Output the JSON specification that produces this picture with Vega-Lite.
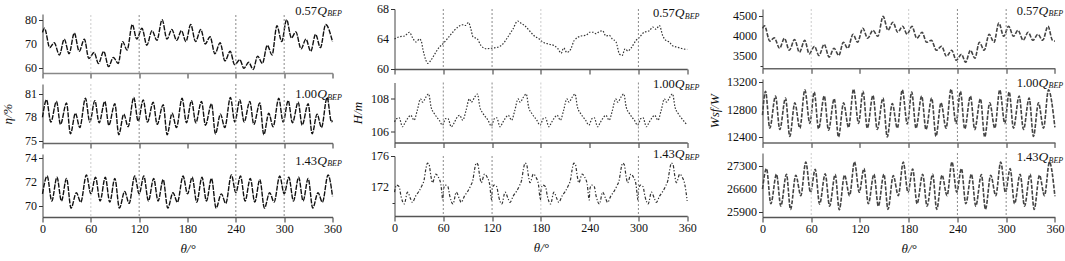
{
"$schema": "https://vega.github.io/schema/vega-lite/v6.json",
"background": "white",
"padding": {"left": 0.5, "top": 3, "right": 2, "bottom": 2},
"config": {
  "view": {"stroke": null},
  "font": "Liberation Serif",
  "axis": {"labelFont": "Liberation Serif", "labelFontSize": 12, "labelColor": "#111", "titleFont": "Liberation Serif", "titleFontSize": 13, "titleFontWeight": "normal", "titleFontStyle": "italic", "titleColor": "#111", "domainColor": "#444", "tickColor": "#333", "grid": false, "labelPadding": 1.5, "labelFlush": false, "labelOverlap": false, "tickWidth": 1},
  "axisX": {"tickSize": 5},
  "axisY": {"tickSize": 4, "labels": false},
  "text": {"font": "Liberation Serif", "color": "#111"}
},
"datasets": {
  "g1": [{"theta": 60}, {"theta": 120}, {"theta": 240}, {"theta": 300}],
  "g2": [{"theta": 60}, {"theta": 120}, {"theta": 180}, {"theta": 300}],
  "g3": [{"theta": 60}, {"theta": 180}, {"theta": 240}, {"theta": 300}],
  "l057": [{"num": "0.57", "q": "Q", "sub": "BEP"}],
  "l100": [{"num": "1.00", "q": "Q", "sub": "BEP"}],
  "l143": [{"num": "1.43", "q": "Q", "sub": "BEP"}],
  "ty1": [{"v": 60, "lab": "60"}, {"v": 70, "lab": "70"}, {"v": 80, "lab": "80"}],
  "ty2": [{"v": 75, "lab": "75"}, {"v": 78, "lab": "78"}, {"v": 81, "lab": "81"}],
  "ty3": [{"v": 70, "lab": "70"}, {"v": 72, "lab": "72"}, {"v": 74, "lab": "74"}],
  "ty4": [{"v": 60, "lab": "60"}, {"v": 64, "lab": "64"}, {"v": 68, "lab": "68"}],
  "ty5": [{"v": 106, "lab": "106"}, {"v": 108, "lab": "108"}],
  "ty6": [{"v": 172, "lab": "172"}, {"v": 176, "lab": "176"}],
  "ty7": [{"v": 3500, "lab": "3500"}, {"v": 4000, "lab": "4000"}, {"v": 4500, "lab": "4500"}],
  "ty8": [{"v": 12400, "lab": "12400"}, {"v": 12800, "lab": "12800"}, {"v": 13200, "lab": "13200"}],
  "ty9": [{"v": 25900, "lab": "25900"}, {"v": 26600, "lab": "26600"}, {"v": 27300, "lab": "27300"}],
  "eta057": [{"theta":0,"v":74.8},{"theta":2.5,"v":76.5},{"theta":9,"v":68.5},{"theta":14.5,"v":70.5},{"theta":21,"v":65.5},{"theta":27,"v":72},{"theta":33,"v":66},{"theta":39.5,"v":74.5},{"theta":45.5,"v":67},{"theta":52,"v":72},{"theta":57.5,"v":64},{"theta":64,"v":66.5},{"theta":69.5,"v":62},{"theta":76,"v":67},{"theta":82,"v":60.7},{"theta":88,"v":64.5},{"theta":94,"v":62},{"theta":99.5,"v":71},{"theta":105,"v":67.5},{"theta":111.5,"v":78},{"theta":117,"v":72},{"theta":123.5,"v":76.5},{"theta":129.5,"v":69.5},{"theta":136,"v":75.5},{"theta":142,"v":71.5},{"theta":148.5,"v":80},{"theta":154.5,"v":72},{"theta":160.5,"v":76},{"theta":166.5,"v":71.5},{"theta":172.5,"v":75.5},{"theta":178,"v":71},{"theta":184,"v":78},{"theta":190,"v":71},{"theta":196.5,"v":76},{"theta":202,"v":70},{"theta":208,"v":73},{"theta":214,"v":66},{"theta":220.5,"v":70.5},{"theta":226.5,"v":63},{"theta":233,"v":67},{"theta":238.5,"v":61.5},{"theta":245,"v":63.5},{"theta":250,"v":60},{"theta":256,"v":62.5},{"theta":261.5,"v":59.5},{"theta":267,"v":65},{"theta":273,"v":62},{"theta":279,"v":69.5},{"theta":285,"v":65.5},{"theta":291,"v":77.5},{"theta":297,"v":71},{"theta":303,"v":80},{"theta":309,"v":72.5},{"theta":314.5,"v":75},{"theta":321,"v":68},{"theta":327,"v":72},{"theta":333,"v":67},{"theta":339,"v":74},{"theta":345,"v":68.5},{"theta":351.5,"v":78},{"theta":360,"v":71}],
  "eta100": [{"theta":0,"v":78.0},{"theta":5,"v":80.2},{"theta":10.3,"v":77.4},{"theta":17.4,"v":80.0},{"theta":22.3,"v":77.1},{"theta":29.8,"v":79.8},{"theta":34.7,"v":75.9},{"theta":40.9,"v":78.5},{"theta":46.3,"v":76.7},{"theta":53.3,"v":80.4},{"theta":58.7,"v":77.4},{"theta":65,"v":80.1},{"theta":70.3,"v":77.3},{"theta":77.4,"v":80.0},{"theta":82.3,"v":77.0},{"theta":89.8,"v":79.7},{"theta":94.7,"v":75.8},{"theta":100.9,"v":78.4},{"theta":106.3,"v":76.8},{"theta":113.3,"v":80.5},{"theta":118.7,"v":77.5},{"theta":125,"v":80.2},{"theta":130.3,"v":77.4},{"theta":137.4,"v":79.9},{"theta":142.3,"v":77.1},{"theta":149.8,"v":79.6},{"theta":154.7,"v":75.8},{"theta":160.9,"v":78.5},{"theta":166.3,"v":76.7},{"theta":173.3,"v":80.4},{"theta":178.7,"v":77.3},{"theta":185,"v":80.1},{"theta":190.3,"v":77.3},{"theta":197.4,"v":80.0},{"theta":202.3,"v":77.0},{"theta":209.8,"v":79.7},{"theta":214.7,"v":75.9},{"theta":220.9,"v":78.4},{"theta":226.3,"v":76.7},{"theta":233.3,"v":80.5},{"theta":238.7,"v":77.4},{"theta":245,"v":80.2},{"theta":250.3,"v":77.4},{"theta":257.4,"v":80.0},{"theta":262.3,"v":77.1},{"theta":269.8,"v":79.8},{"theta":274.7,"v":75.8},{"theta":280.9,"v":78.5},{"theta":286.3,"v":76.8},{"theta":293.3,"v":80.4},{"theta":298.7,"v":77.4},{"theta":305,"v":80.1},{"theta":310.3,"v":77.3},{"theta":317.4,"v":79.9},{"theta":322.3,"v":77.0},{"theta":329.8,"v":79.7},{"theta":334.7,"v":75.9},{"theta":340.9,"v":78.4},{"theta":346.3,"v":76.7},{"theta":353.3,"v":80.5},{"theta":358.7,"v":77.4},{"theta":360,"v":77.6}],
  "eta143": [{"theta":0,"v":71.0},{"theta":5.8,"v":72.5},{"theta":11.5,"v":70.4},{"theta":18,"v":72.4},{"theta":23.5,"v":70.4},{"theta":29.8,"v":72.3},{"theta":35.5,"v":69.8},{"theta":42,"v":71.1},{"theta":47.5,"v":70.3},{"theta":54.5,"v":72.6},{"theta":60,"v":71.0},{"theta":65.8,"v":72.4},{"theta":71.5,"v":70.4},{"theta":78,"v":72.4},{"theta":83.5,"v":70.3},{"theta":89.8,"v":72.3},{"theta":95.5,"v":69.8},{"theta":102,"v":71.2},{"theta":107.5,"v":70.2},{"theta":114.5,"v":72.5},{"theta":120,"v":71.0},{"theta":125.8,"v":72.5},{"theta":131.5,"v":70.4},{"theta":138,"v":72.3},{"theta":143.5,"v":70.4},{"theta":149.8,"v":72.2},{"theta":155.5,"v":69.8},{"theta":162,"v":71.1},{"theta":167.5,"v":70.3},{"theta":174.5,"v":72.5},{"theta":180,"v":71.0},{"theta":185.8,"v":72.4},{"theta":191.5,"v":70.3},{"theta":198,"v":72.4},{"theta":203.5,"v":70.4},{"theta":209.8,"v":72.3},{"theta":215.5,"v":69.8},{"theta":222,"v":71.0},{"theta":227.5,"v":70.2},{"theta":234.5,"v":72.6},{"theta":240,"v":71.1},{"theta":245.8,"v":72.5},{"theta":251.5,"v":70.4},{"theta":258,"v":72.3},{"theta":263.5,"v":70.3},{"theta":269.8,"v":72.2},{"theta":275.5,"v":69.8},{"theta":282,"v":71.1},{"theta":287.5,"v":70.3},{"theta":294.5,"v":72.5},{"theta":300,"v":71.0},{"theta":305.8,"v":72.4},{"theta":311.5,"v":70.4},{"theta":318,"v":72.4},{"theta":323.5,"v":70.4},{"theta":329.8,"v":72.3},{"theta":335.5,"v":69.8},{"theta":342,"v":71.1},{"theta":347.5,"v":70.3},{"theta":354.5,"v":72.6},{"theta":360,"v":70.8}],
  "h057": [{"theta":0,"v":64.0},{"theta":6,"v":64.3},{"theta":12.3,"v":64.4},{"theta":18.4,"v":64.9},{"theta":22,"v":64.2},{"theta":26.6,"v":63.6},{"theta":30.7,"v":64.0},{"theta":33,"v":63.7},{"theta":35,"v":62.6},{"theta":38.5,"v":61.2},{"theta":41,"v":60.75},{"theta":45,"v":61.2},{"theta":49,"v":61.9},{"theta":55,"v":62.9},{"theta":59,"v":63.3},{"theta":64,"v":63.9},{"theta":70,"v":64.7},{"theta":78,"v":65.6},{"theta":84,"v":65.9},{"theta":87,"v":65.8},{"theta":91,"v":66.2},{"theta":94,"v":65.3},{"theta":96.5,"v":64.3},{"theta":102,"v":64.0},{"theta":106.5,"v":63.1},{"theta":113,"v":62.7},{"theta":121,"v":62.8},{"theta":127,"v":62.9},{"theta":133,"v":63.3},{"theta":139,"v":64.2},{"theta":145.5,"v":65.3},{"theta":151.6,"v":66.4},{"theta":155.7,"v":66.1},{"theta":160,"v":65.8},{"theta":166,"v":65.1},{"theta":172,"v":64.4},{"theta":178,"v":64.0},{"theta":182,"v":63.6},{"theta":190.6,"v":63.3},{"theta":196.7,"v":63.1},{"theta":201,"v":62.7},{"theta":205,"v":62.1},{"theta":208,"v":62.8},{"theta":212,"v":62.2},{"theta":217,"v":62.7},{"theta":221,"v":63.8},{"theta":229.5,"v":64.4},{"theta":235.7,"v":64.5},{"theta":240,"v":64.9},{"theta":244,"v":64.9},{"theta":248,"v":64.7},{"theta":252,"v":65.0},{"theta":256,"v":65.1},{"theta":260,"v":64.4},{"theta":264,"v":64.5},{"theta":268,"v":64.0},{"theta":272.5,"v":63.6},{"theta":276.6,"v":62.0},{"theta":280,"v":61.8},{"theta":283.6,"v":62.7},{"theta":287,"v":62.4},{"theta":291,"v":62.8},{"theta":297,"v":63.8},{"theta":301,"v":64.2},{"theta":307,"v":64.9},{"theta":313.5,"v":65.1},{"theta":317.6,"v":65.6},{"theta":321.7,"v":65.3},{"theta":325.8,"v":65.8},{"theta":330,"v":64.4},{"theta":334,"v":63.8},{"theta":338,"v":63.6},{"theta":342,"v":63.1},{"theta":348,"v":62.9},{"theta":354.5,"v":62.7},{"theta":360,"v":62.6}],
  "h100": [{"theta":0,"v":106.6},{"theta":3,"v":106.8},{"theta":5.7,"v":106.85},{"theta":9.8,"v":106.3},{"theta":13,"v":106.55},{"theta":16,"v":106.8},{"theta":20,"v":107.0},{"theta":24,"v":106.7},{"theta":28,"v":107.3},{"theta":32,"v":108.0},{"theta":34.5,"v":107.8},{"theta":38.5,"v":108.1},{"theta":42,"v":108.3},{"theta":45,"v":107.5},{"theta":49,"v":107.1},{"theta":55,"v":106.7},{"theta":59,"v":106.4},{"theta":63,"v":106.8},{"theta":65.7,"v":106.8},{"theta":69.8,"v":106.3},{"theta":73,"v":106.5},{"theta":76,"v":106.8},{"theta":80,"v":107.0},{"theta":84,"v":106.7},{"theta":88,"v":107.3},{"theta":92,"v":108.0},{"theta":94.5,"v":107.8},{"theta":98.5,"v":108.1},{"theta":102,"v":108.3},{"theta":105,"v":107.5},{"theta":109,"v":107.1},{"theta":115,"v":106.7},{"theta":119,"v":106.35},{"theta":123,"v":106.8},{"theta":125.7,"v":106.85},{"theta":129.8,"v":106.3},{"theta":133,"v":106.55},{"theta":136,"v":106.8},{"theta":140,"v":107.0},{"theta":144,"v":106.7},{"theta":148,"v":107.3},{"theta":152,"v":108.0},{"theta":154.5,"v":107.8},{"theta":158.5,"v":108.1},{"theta":162,"v":108.3},{"theta":165,"v":107.5},{"theta":169,"v":107.1},{"theta":175,"v":106.7},{"theta":179,"v":106.4},{"theta":183,"v":106.8},{"theta":185.7,"v":106.85},{"theta":189.8,"v":106.3},{"theta":193,"v":106.55},{"theta":196,"v":106.8},{"theta":200,"v":107.0},{"theta":204,"v":106.7},{"theta":208,"v":107.3},{"theta":212,"v":108.0},{"theta":214.5,"v":107.8},{"theta":218.5,"v":108.1},{"theta":222,"v":108.3},{"theta":225,"v":107.5},{"theta":229,"v":107.1},{"theta":235,"v":106.7},{"theta":239,"v":106.4},{"theta":243,"v":106.8},{"theta":245.7,"v":106.85},{"theta":249.8,"v":106.3},{"theta":253,"v":106.55},{"theta":256,"v":106.8},{"theta":260,"v":107.0},{"theta":264,"v":106.7},{"theta":268,"v":107.3},{"theta":272,"v":108.0},{"theta":274.5,"v":107.8},{"theta":278.5,"v":108.1},{"theta":282,"v":108.3},{"theta":285,"v":107.5},{"theta":289,"v":107.1},{"theta":295,"v":106.7},{"theta":299,"v":106.4},{"theta":303,"v":106.8},{"theta":305.7,"v":106.85},{"theta":309.8,"v":106.3},{"theta":313,"v":106.55},{"theta":316,"v":106.8},{"theta":320,"v":107.0},{"theta":324,"v":106.7},{"theta":328,"v":107.3},{"theta":332,"v":108.0},{"theta":334.5,"v":107.8},{"theta":338.5,"v":108.1},{"theta":342,"v":108.3},{"theta":345,"v":107.5},{"theta":349,"v":107.1},{"theta":355,"v":106.7},{"theta":360,"v":106.4}],
  "h143": [{"theta":0,"v":171.4},{"theta":2.5,"v":172.3},{"theta":5.7,"v":172.1},{"theta":8,"v":170.9},{"theta":12,"v":169.9},{"theta":16,"v":171.4},{"theta":20,"v":170.5},{"theta":22,"v":170.1},{"theta":26,"v":170.9},{"theta":30,"v":171.5},{"theta":33.6,"v":172.2},{"theta":36.5,"v":173.0},{"theta":38.5,"v":174.3},{"theta":40.6,"v":175.1},{"theta":42.6,"v":174.9},{"theta":44.7,"v":173.5},{"theta":46.7,"v":172.6},{"theta":50.8,"v":173.7},{"theta":54,"v":173.3},{"theta":57,"v":172.4},{"theta":59.5,"v":170.4},{"theta":60.3,"v":171.8},{"theta":62.5,"v":172.3},{"theta":65.7,"v":172.1},{"theta":68,"v":170.9},{"theta":72,"v":169.9},{"theta":76,"v":171.4},{"theta":80,"v":170.5},{"theta":82,"v":170.1},{"theta":86,"v":170.9},{"theta":90,"v":171.5},{"theta":93.6,"v":172.2},{"theta":96.5,"v":173.0},{"theta":98.5,"v":174.3},{"theta":100.6,"v":175.1},{"theta":102.6,"v":174.9},{"theta":104.7,"v":173.5},{"theta":106.7,"v":172.6},{"theta":110.8,"v":173.7},{"theta":114,"v":173.3},{"theta":117,"v":172.4},{"theta":119.5,"v":170.4},{"theta":120.3,"v":171.8},{"theta":122.5,"v":172.3},{"theta":125.7,"v":172.1},{"theta":128,"v":170.9},{"theta":132,"v":169.9},{"theta":136,"v":171.4},{"theta":140,"v":170.5},{"theta":142,"v":170.1},{"theta":146,"v":170.9},{"theta":150,"v":171.5},{"theta":153.6,"v":172.2},{"theta":156.5,"v":173.0},{"theta":158.5,"v":174.3},{"theta":160.6,"v":175.1},{"theta":162.6,"v":174.9},{"theta":164.7,"v":173.5},{"theta":166.7,"v":172.6},{"theta":170.8,"v":173.7},{"theta":174,"v":173.3},{"theta":177,"v":172.4},{"theta":179.5,"v":170.4},{"theta":180.3,"v":171.8},{"theta":182.5,"v":172.3},{"theta":185.7,"v":172.1},{"theta":188,"v":170.9},{"theta":192,"v":169.9},{"theta":196,"v":171.4},{"theta":200,"v":170.5},{"theta":202,"v":170.1},{"theta":206,"v":170.9},{"theta":210,"v":171.5},{"theta":213.6,"v":172.2},{"theta":216.5,"v":173.0},{"theta":218.5,"v":174.3},{"theta":220.6,"v":175.1},{"theta":222.6,"v":174.9},{"theta":224.7,"v":173.5},{"theta":226.7,"v":172.6},{"theta":230.8,"v":173.7},{"theta":234,"v":173.3},{"theta":237,"v":172.4},{"theta":239.5,"v":170.4},{"theta":240.3,"v":171.8},{"theta":242.5,"v":172.3},{"theta":245.7,"v":172.1},{"theta":248,"v":170.9},{"theta":252,"v":169.9},{"theta":256,"v":171.4},{"theta":260,"v":170.5},{"theta":262,"v":170.1},{"theta":266,"v":170.9},{"theta":270,"v":171.5},{"theta":273.6,"v":172.2},{"theta":276.5,"v":173.0},{"theta":278.5,"v":174.3},{"theta":280.6,"v":175.1},{"theta":282.6,"v":174.9},{"theta":284.7,"v":173.5},{"theta":286.7,"v":172.6},{"theta":290.8,"v":173.7},{"theta":294,"v":173.3},{"theta":297,"v":172.4},{"theta":299.5,"v":170.4},{"theta":300.3,"v":171.8},{"theta":302.5,"v":172.3},{"theta":305.7,"v":172.1},{"theta":308,"v":170.9},{"theta":312,"v":169.9},{"theta":316,"v":171.4},{"theta":320,"v":170.5},{"theta":322,"v":170.1},{"theta":326,"v":170.9},{"theta":330,"v":171.5},{"theta":333.6,"v":172.2},{"theta":336.5,"v":173.0},{"theta":338.5,"v":174.3},{"theta":340.6,"v":175.1},{"theta":342.6,"v":174.9},{"theta":344.7,"v":173.5},{"theta":346.7,"v":172.6},{"theta":350.8,"v":173.7},{"theta":354,"v":173.3},{"theta":357,"v":172.4},{"theta":360,"v":170.3}],
  "w057": [{"theta":0,"v":4200},{"theta":2.5,"v":4260},{"theta":9,"v":3880},{"theta":14.5,"v":3960},{"theta":21,"v":3700},{"theta":27,"v":3950},{"theta":33,"v":3650},{"theta":39.5,"v":3920},{"theta":45.5,"v":3600},{"theta":52,"v":3900},{"theta":57.5,"v":3560},{"theta":64,"v":3750},{"theta":69.5,"v":3520},{"theta":76,"v":3800},{"theta":82,"v":3480},{"theta":88,"v":3700},{"theta":94,"v":3520},{"theta":99.5,"v":3850},{"theta":105,"v":3700},{"theta":111.5,"v":4050},{"theta":117,"v":3850},{"theta":123.5,"v":4200},{"theta":129.5,"v":3950},{"theta":136,"v":4150},{"theta":142,"v":4000},{"theta":148.5,"v":4500},{"theta":154.5,"v":4150},{"theta":160.5,"v":4350},{"theta":166.5,"v":4100},{"theta":172.5,"v":4250},{"theta":178,"v":4050},{"theta":184,"v":4250},{"theta":190,"v":3950},{"theta":196.5,"v":4100},{"theta":202,"v":3850},{"theta":208,"v":3900},{"theta":214,"v":3650},{"theta":220.5,"v":3750},{"theta":226.5,"v":3500},{"theta":233,"v":3650},{"theta":238.5,"v":3400},{"theta":245,"v":3550},{"theta":250,"v":3350},{"theta":256,"v":3650},{"theta":261.5,"v":3450},{"theta":267,"v":3850},{"theta":273,"v":3650},{"theta":279,"v":4050},{"theta":285,"v":3850},{"theta":291,"v":4330},{"theta":297,"v":4000},{"theta":303,"v":4250},{"theta":309,"v":4000},{"theta":314.5,"v":4150},{"theta":321,"v":3900},{"theta":327,"v":4100},{"theta":333,"v":3900},{"theta":339,"v":4050},{"theta":345,"v":3900},{"theta":351.5,"v":4250},{"theta":357,"v":3900},{"theta":360,"v":3880}],
  "w100": [{"theta":0,"v":12720},{"theta":3.7,"v":13070},{"theta":9,"v":12530},{"theta":16,"v":13000},{"theta":21.3,"v":12510},{"theta":28.3,"v":12970},{"theta":33.6,"v":12410},{"theta":39.8,"v":12900},{"theta":46,"v":12530},{"theta":52.1,"v":13090},{"theta":58.3,"v":12600},{"theta":63.7,"v":13060},{"theta":69,"v":12520},{"theta":76,"v":13000},{"theta":81.3,"v":12500},{"theta":88.3,"v":12960},{"theta":93.6,"v":12400},{"theta":99.8,"v":12900},{"theta":106,"v":12540},{"theta":112.1,"v":13100},{"theta":118.3,"v":12600},{"theta":123.7,"v":13070},{"theta":129,"v":12530},{"theta":136,"v":13010},{"theta":141.3,"v":12510},{"theta":148.3,"v":12970},{"theta":153.6,"v":12400},{"theta":159.8,"v":12890},{"theta":166,"v":12530},{"theta":172.1,"v":13090},{"theta":178.3,"v":12590},{"theta":183.7,"v":13060},{"theta":189,"v":12530},{"theta":196,"v":13000},{"theta":201.3,"v":12510},{"theta":208.3,"v":12970},{"theta":213.6,"v":12410},{"theta":219.8,"v":12900},{"theta":226,"v":12530},{"theta":232.1,"v":13100},{"theta":238.3,"v":12600},{"theta":243.7,"v":13070},{"theta":249,"v":12520},{"theta":256,"v":13000},{"theta":261.3,"v":12510},{"theta":268.3,"v":12960},{"theta":273.6,"v":12400},{"theta":279.8,"v":12900},{"theta":286,"v":12530},{"theta":292.1,"v":13090},{"theta":298.3,"v":12600},{"theta":303.7,"v":13060},{"theta":309,"v":12530},{"theta":316,"v":13000},{"theta":321.3,"v":12510},{"theta":328.3,"v":12970},{"theta":333.6,"v":12410},{"theta":339.8,"v":12900},{"theta":346,"v":12530},{"theta":352.1,"v":13090},{"theta":360,"v":12540}],
  "w143": [{"theta":0,"v":26600},{"theta":4.9,"v":27220},{"theta":10.3,"v":26150},{"theta":17.2,"v":27050},{"theta":22.6,"v":26080},{"theta":29.5,"v":27050},{"theta":34.5,"v":25980},{"theta":41,"v":27020},{"theta":47.2,"v":26400},{"theta":53.3,"v":27420},{"theta":59.1,"v":26500},{"theta":64.9,"v":27200},{"theta":70.3,"v":26140},{"theta":77.2,"v":27060},{"theta":82.6,"v":26080},{"theta":89.5,"v":27040},{"theta":94.5,"v":25970},{"theta":101,"v":27020},{"theta":107.2,"v":26400},{"theta":113.3,"v":27430},{"theta":119.1,"v":26500},{"theta":124.9,"v":27220},{"theta":130.3,"v":26150},{"theta":137.2,"v":27050},{"theta":142.6,"v":26080},{"theta":149.5,"v":27050},{"theta":154.5,"v":25980},{"theta":161,"v":27010},{"theta":167.2,"v":26400},{"theta":173.3,"v":27420},{"theta":179.1,"v":26500},{"theta":184.9,"v":27210},{"theta":190.3,"v":26150},{"theta":197.2,"v":27050},{"theta":202.6,"v":26080},{"theta":209.5,"v":27050},{"theta":214.5,"v":25980},{"theta":221,"v":27020},{"theta":227.2,"v":26400},{"theta":233.3,"v":27420},{"theta":239.1,"v":26500},{"theta":244.9,"v":27220},{"theta":250.3,"v":26150},{"theta":257.2,"v":27050},{"theta":262.6,"v":26080},{"theta":269.5,"v":27040},{"theta":274.5,"v":25980},{"theta":281,"v":27020},{"theta":287.2,"v":26400},{"theta":293.3,"v":27420},{"theta":299.1,"v":26500},{"theta":304.9,"v":27220},{"theta":310.3,"v":26150},{"theta":317.2,"v":27050},{"theta":322.6,"v":26080},{"theta":329.5,"v":27050},{"theta":334.5,"v":25980},{"theta":341,"v":27020},{"theta":347.2,"v":26400},{"theta":353.3,"v":27420},{"theta":360,"v":26380}]
},
"spacing": 9,
"hconcat": [
 {"vconcat": [
  {"width": 290, "height": 64, "layer": [
   {"data": {"name": "eta057"}, "mark": {"type": "line", "interpolate": "monotone", "stroke": "#111", "strokeWidth": 1.4, "strokeDash": [5, 1.2]},
    "encoding": {"x": {"field": "theta", "type": "quantitative", "scale": {"domain": [0, 360], "nice": false}, "axis": {"values": [0,30,60,90,120,150,180,210,240,270,300,330,360], "labels": false, "title": null, "tickDash": {"condition": {"test": "datum.value % 60 !== 0", "value": [3, 10]}, "value": [10, 0]}, "domainColor": "#888", "domainWidth": 1.5}},
     "y": {"field": "v", "type": "quantitative", "scale": {"domain": [58.07, 82.35], "range": [64, 5], "nice": false, "zero": false}, "axis": {"values": [60,65,70,75,80], "labels": false, "tickDash": {"condition": {"test": "datum.value % 10 !== 0", "value": [2.5, 10]}, "value": [10, 0]}, "title": null}}}},
   {"data": {"name": "ty1"}, "mark": {"type": "text", "align": "right", "baseline": "middle", "fontSize": 12, "dx": -5.5},
    "encoding": {"x": {"datum": 0, "type": "quantitative"}, "y": {"field": "v", "type": "quantitative"}, "text": {"field": "lab"}}},
   {"data": {"name": "g1"}, "mark": {"type": "rule", "strokeDash": [2, 2], "strokeWidth": 1},
    "encoding": {"x": {"field": "theta", "type": "quantitative"},
     "y": {"datum": 58.07, "type": "quantitative"}, "y2": {"datum": 82.35},
     "color": {"condition": {"test": "datum.theta == 60", "value": "#cccccc"}, "value": "#8a8a8a"}}},
   {"data": {"name": "l057"}, "mark": {"type": "text", "align": "right", "baseline": "middle", "fontSize": 12.5, "dx": -15.4, "dy": -3.3},
    "encoding": {"x": {"datum": 360, "type": "quantitative"}, "y": {"datum": 82.35, "type": "quantitative"}, "text": {"field": "num"}}},
   {"data": {"name": "l057"}, "mark": {"type": "text", "align": "right", "baseline": "middle", "fontSize": 13.5, "fontStyle": "italic", "dx": -5.6, "dy": -3.3},
    "encoding": {"x": {"datum": 360, "type": "quantitative"}, "y": {"datum": 82.35, "type": "quantitative"}, "text": {"field": "q"}}},
   {"data": {"name": "l057"}, "mark": {"type": "text", "align": "right", "baseline": "middle", "fontSize": 8, "fontStyle": "italic", "dx": 9.3, "dy": 0.3},
    "encoding": {"x": {"datum": 360, "type": "quantitative"}, "y": {"datum": 82.35, "type": "quantitative"}, "text": {"field": "sub"}}}
  ]},
  {"width": 290, "height": 59, "layer": [
   {"data": {"name": "eta100"}, "mark": {"type": "line", "interpolate": "monotone", "stroke": "#111", "strokeWidth": 1.4, "strokeDash": [5, 1.2]},
    "encoding": {"x": {"field": "theta", "type": "quantitative", "scale": {"domain": [0, 360], "nice": false}, "axis": {"values": [0,30,60,90,120,150,180,210,240,270,300,330,360], "labels": false, "title": null, "tickDash": {"condition": {"test": "datum.value % 60 !== 0", "value": [3, 10]}, "value": [10, 0]}, "domainColor": "#666", "domainWidth": 1.5}},
     "y": {"field": "v", "type": "quantitative", "scale": {"domain": [74.75, 82.2], "nice": false, "zero": false}, "axis": {"values": [75,76.5,78,79.5,81], "labels": false, "tickDash": {"condition": {"test": "datum.value % 3 !== 0", "value": [2.5, 10]}, "value": [10, 0]}, "title": "η/%", "titlePadding": 23.7}}}},
   {"data": {"name": "ty2"}, "mark": {"type": "text", "align": "right", "baseline": "middle", "fontSize": 12, "dx": -5.5},
    "encoding": {"x": {"datum": 0, "type": "quantitative"}, "y": {"field": "v", "type": "quantitative"}, "text": {"field": "lab"}}},
   {"data": {"name": "g1"}, "mark": {"type": "rule", "strokeDash": [2, 2], "strokeWidth": 1},
    "encoding": {"x": {"field": "theta", "type": "quantitative"},
     "color": {"condition": {"test": "datum.theta == 60", "value": "#cccccc"}, "value": "#8a8a8a"}}},
   {"data": {"name": "l100"}, "mark": {"type": "text", "align": "right", "baseline": "middle", "fontSize": 12.5, "dx": -15.4, "dy": 10},
    "encoding": {"x": {"datum": 360, "type": "quantitative"}, "y": {"datum": 82.2, "type": "quantitative"}, "text": {"field": "num"}}},
   {"data": {"name": "l100"}, "mark": {"type": "text", "align": "right", "baseline": "middle", "fontSize": 13.5, "fontStyle": "italic", "dx": -5.6, "dy": 10},
    "encoding": {"x": {"datum": 360, "type": "quantitative"}, "y": {"datum": 82.2, "type": "quantitative"}, "text": {"field": "q"}}},
   {"data": {"name": "l100"}, "mark": {"type": "text", "align": "right", "baseline": "middle", "fontSize": 8, "fontStyle": "italic", "dx": 9.3, "dy": 13.5},
    "encoding": {"x": {"datum": 360, "type": "quantitative"}, "y": {"datum": 82.2, "type": "quantitative"}, "text": {"field": "sub"}}}
  ]},
  {"width": 290, "height": 63, "layer": [
   {"data": {"name": "eta143"}, "mark": {"type": "line", "interpolate": "monotone", "stroke": "#111", "strokeWidth": 1.4, "strokeDash": [5, 1.2]},
    "encoding": {"x": {"field": "theta", "type": "quantitative", "scale": {"domain": [0, 360], "nice": false}, "axis": {"values": [0,30,60,90,120,150,180,210,240,270,300,330,360], "labelExpr": "datum.value % 60 === 0 ? format(datum.value, 'd') : ''", "title": "θ/°", "tickDash": {"condition": {"test": "datum.value % 60 !== 0", "value": [3, 10]}, "value": [10, 0]}, "domainColor": "#555", "domainWidth": 1.5, "labelPadding": 1, "titlePadding": 8}},
     "y": {"field": "v", "type": "quantitative", "scale": {"domain": [69.05, 74.36], "nice": false, "zero": false}, "axis": {"values": [70,71,72,73,74], "labels": false, "tickDash": {"condition": {"test": "datum.value % 2 !== 0", "value": [2.5, 10]}, "value": [10, 0]}, "title": null}}}},
   {"data": {"name": "ty3"}, "mark": {"type": "text", "align": "right", "baseline": "middle", "fontSize": 12, "dx": -5.5},
    "encoding": {"x": {"datum": 0, "type": "quantitative"}, "y": {"field": "v", "type": "quantitative"}, "text": {"field": "lab"}}},
   {"data": {"name": "g1"}, "mark": {"type": "rule", "strokeDash": [2, 2], "strokeWidth": 1},
    "encoding": {"x": {"field": "theta", "type": "quantitative"},
     "color": {"condition": {"test": "datum.theta == 60", "value": "#cccccc"}, "value": "#8a8a8a"}}},
   {"data": {"name": "l143"}, "mark": {"type": "text", "align": "right", "baseline": "middle", "fontSize": 12.5, "dx": -15.4, "dy": 6.7},
    "encoding": {"x": {"datum": 360, "type": "quantitative"}, "y": {"datum": 74.36, "type": "quantitative"}, "text": {"field": "num"}}},
   {"data": {"name": "l143"}, "mark": {"type": "text", "align": "right", "baseline": "middle", "fontSize": 13.5, "fontStyle": "italic", "dx": -5.6, "dy": 6.7},
    "encoding": {"x": {"datum": 360, "type": "quantitative"}, "y": {"datum": 74.36, "type": "quantitative"}, "text": {"field": "q"}}},
   {"data": {"name": "l143"}, "mark": {"type": "text", "align": "right", "baseline": "middle", "fontSize": 8, "fontStyle": "italic", "dx": 9.3, "dy": 10.2},
    "encoding": {"x": {"datum": 360, "type": "quantitative"}, "y": {"datum": 74.36, "type": "quantitative"}, "text": {"field": "sub"}}}
  ]}
 ], "spacing": 11, "bounds": "flush"},
 {"vconcat": [
  {"width": 292.7, "height": 60, "layer": [
   {"data": {"name": "h057"}, "mark": {"type": "line", "interpolate": "monotone", "stroke": "#333", "strokeWidth": 1.2, "strokeDash": [1.5, 1.6]},
    "encoding": {"x": {"field": "theta", "type": "quantitative", "scale": {"domain": [0, 360], "nice": false}, "axis": {"values": [0,30,60,90,120,150,180,210,240,270,300,330,360], "labels": false, "title": null, "tickDash": {"condition": {"test": "datum.value % 60 !== 0", "value": [3, 10]}, "value": [10, 0]}, "domainColor": "#555", "domainWidth": 1.5}},
     "y": {"field": "v", "type": "quantitative", "scale": {"domain": [60, 68], "nice": false, "zero": false}, "axis": {"values": [60,62,64,66,68], "labels": false, "tickDash": {"condition": {"test": "datum.value % 4 !== 0", "value": [2.5, 10]}, "value": [10, 0]}, "title": null}}}},
   {"data": {"name": "ty4"}, "mark": {"type": "text", "align": "right", "baseline": "middle", "fontSize": 12, "dx": -5.5},
    "encoding": {"x": {"datum": 0, "type": "quantitative"}, "y": {"field": "v", "type": "quantitative"}, "text": {"field": "lab"}}},
   {"data": {"name": "g2"}, "mark": {"type": "rule", "strokeDash": [2, 2], "strokeWidth": 1},
    "encoding": {"x": {"field": "theta", "type": "quantitative"},
     "color": {"condition": {"test": "datum.theta == 180", "value": "#cccccc"}, "value": "#8a8a8a"}}},
   {"data": {"name": "l057"}, "mark": {"type": "text", "align": "right", "baseline": "middle", "fontSize": 12.5, "dx": -12.4, "dy": 4},
    "encoding": {"x": {"datum": 360, "type": "quantitative"}, "y": {"datum": 68, "type": "quantitative"}, "text": {"field": "num"}}},
   {"data": {"name": "l057"}, "mark": {"type": "text", "align": "right", "baseline": "middle", "fontSize": 13.5, "fontStyle": "italic", "dx": -2.6, "dy": 4},
    "encoding": {"x": {"datum": 360, "type": "quantitative"}, "y": {"datum": 68, "type": "quantitative"}, "text": {"field": "q"}}},
   {"data": {"name": "l057"}, "mark": {"type": "text", "align": "right", "baseline": "middle", "fontSize": 8, "fontStyle": "italic", "dx": 12.3, "dy": 7.5},
    "encoding": {"x": {"datum": 360, "type": "quantitative"}, "y": {"datum": 68, "type": "quantitative"}, "text": {"field": "sub"}}}
  ]},
  {"width": 292.7, "height": 60, "layer": [
   {"data": {"name": "h100"}, "mark": {"type": "line", "interpolate": "monotone", "stroke": "#333", "strokeWidth": 1.2, "strokeDash": [1.5, 1.6]},
    "encoding": {"x": {"field": "theta", "type": "quantitative", "scale": {"domain": [0, 360], "nice": false}, "axis": {"values": [0,30,60,90,120,150,180,210,240,270,300,330,360], "labels": false, "title": null, "tickDash": {"condition": {"test": "datum.value % 60 !== 0", "value": [3, 10]}, "value": [10, 0]}, "domainColor": "#555", "domainWidth": 1.5}},
     "y": {"field": "v", "type": "quantitative", "scale": {"domain": [105.34, 109.0], "nice": false, "zero": false}, "axis": {"values": [106,107,108], "labels": false, "tickDash": {"condition": {"test": "datum.value % 2 !== 0", "value": [2.5, 10]}, "value": [10, 0]}, "title": "H/m", "titlePadding": 25.5}}}},
   {"data": {"name": "ty5"}, "mark": {"type": "text", "align": "right", "baseline": "middle", "fontSize": 12, "dx": -5.5},
    "encoding": {"x": {"datum": 0, "type": "quantitative"}, "y": {"field": "v", "type": "quantitative"}, "text": {"field": "lab"}}},
   {"data": {"name": "g2"}, "mark": {"type": "rule", "strokeDash": [2, 2], "strokeWidth": 1},
    "encoding": {"x": {"field": "theta", "type": "quantitative"},
     "color": {"condition": {"test": "datum.theta == 180", "value": "#cccccc"}, "value": "#8a8a8a"}}},
   {"data": {"name": "l100"}, "mark": {"type": "text", "align": "right", "baseline": "middle", "fontSize": 12.5, "dx": -12.4, "dy": 1.5},
    "encoding": {"x": {"datum": 360, "type": "quantitative"}, "y": {"datum": 109.0, "type": "quantitative"}, "text": {"field": "num"}}},
   {"data": {"name": "l100"}, "mark": {"type": "text", "align": "right", "baseline": "middle", "fontSize": 13.5, "fontStyle": "italic", "dx": -2.6, "dy": 1.5},
    "encoding": {"x": {"datum": 360, "type": "quantitative"}, "y": {"datum": 109.0, "type": "quantitative"}, "text": {"field": "q"}}},
   {"data": {"name": "l100"}, "mark": {"type": "text", "align": "right", "baseline": "middle", "fontSize": 8, "fontStyle": "italic", "dx": 12.3, "dy": 5},
    "encoding": {"x": {"datum": 360, "type": "quantitative"}, "y": {"datum": 109.0, "type": "quantitative"}, "text": {"field": "sub"}}}
  ]},
  {"width": 292.7, "height": 60, "layer": [
   {"data": {"name": "h143"}, "mark": {"type": "line", "interpolate": "monotone", "stroke": "#333", "strokeWidth": 1.2, "strokeDash": [3, 1.8, 1.2, 1.8]},
    "encoding": {"x": {"field": "theta", "type": "quantitative", "scale": {"domain": [0, 360], "nice": false}, "axis": {"values": [0,30,60,90,120,150,180,210,240,270,300,330,360], "labelExpr": "datum.value % 60 === 0 ? format(datum.value, 'd') : ''", "title": "θ/°", "tickDash": {"condition": {"test": "datum.value % 60 !== 0", "value": [3, 10]}, "value": [10, 0]}, "domainColor": "#555", "domainWidth": 1.5, "labelPadding": 1, "titlePadding": 8}},
     "y": {"field": "v", "type": "quantitative", "scale": {"domain": [168.37, 176], "nice": false, "zero": false}, "axis": {"values": [170,172,174,176], "labels": false, "tickDash": {"condition": {"test": "datum.value % 4 !== 0", "value": [2.5, 10]}, "value": [10, 0]}, "title": null}}}},
   {"data": {"name": "ty6"}, "mark": {"type": "text", "align": "right", "baseline": "middle", "fontSize": 12, "dx": -5.5},
    "encoding": {"x": {"datum": 0, "type": "quantitative"}, "y": {"field": "v", "type": "quantitative"}, "text": {"field": "lab"}}},
   {"data": {"name": "g2"}, "mark": {"type": "rule", "strokeDash": [2, 2], "strokeWidth": 1},
    "encoding": {"x": {"field": "theta", "type": "quantitative"},
     "color": {"condition": {"test": "datum.theta == 180", "value": "#cccccc"}, "value": "#8a8a8a"}}},
   {"data": {"name": "l143"}, "mark": {"type": "text", "align": "right", "baseline": "middle", "fontSize": 12.5, "dx": -12.4, "dy": -2},
    "encoding": {"x": {"datum": 360, "type": "quantitative"}, "y": {"datum": 176, "type": "quantitative"}, "text": {"field": "num"}}},
   {"data": {"name": "l143"}, "mark": {"type": "text", "align": "right", "baseline": "middle", "fontSize": 13.5, "fontStyle": "italic", "dx": -2.6, "dy": -2},
    "encoding": {"x": {"datum": 360, "type": "quantitative"}, "y": {"datum": 176, "type": "quantitative"}, "text": {"field": "q"}}},
   {"data": {"name": "l143"}, "mark": {"type": "text", "align": "right", "baseline": "middle", "fontSize": 8, "fontStyle": "italic", "dx": 12.3, "dy": 1.5},
    "encoding": {"x": {"datum": 360, "type": "quantitative"}, "y": {"datum": 176, "type": "quantitative"}, "text": {"field": "sub"}}}
  ]}
 ], "spacing": 13.5, "bounds": "flush"},
 {"vconcat": [
  {"width": 292.4, "height": 59.3, "layer": [
   {"data": {"name": "w057"}, "mark": {"type": "line", "interpolate": "monotone", "stroke": "#444", "strokeWidth": 1.6, "strokeDash": [4, 1.5]},
    "encoding": {"x": {"field": "theta", "type": "quantitative", "scale": {"domain": [0, 360], "nice": false}, "axis": {"values": [0,30,60,90,120,150,180,210,240,270,300,330,360], "labels": false, "title": null, "tickDash": {"condition": {"test": "datum.value % 60 !== 0", "value": [3, 10]}, "value": [10, 0]}, "domainColor": "#666", "domainWidth": 1.5}},
     "y": {"field": "v", "type": "quantitative", "scale": {"domain": [3200, 4682], "nice": false, "zero": false}, "axis": {"values": [3250,3500,3750,4000,4250,4500], "labels": false, "tickDash": {"condition": {"test": "datum.value % 500 !== 0", "value": [2.5, 10]}, "value": [10, 0]}, "title": null}}}},
   {"data": {"name": "ty7"}, "mark": {"type": "text", "align": "right", "baseline": "middle", "fontSize": 12, "dx": -5.5},
    "encoding": {"x": {"datum": 0, "type": "quantitative"}, "y": {"field": "v", "type": "quantitative"}, "text": {"field": "lab"}}},
   {"data": {"name": "g3"}, "mark": {"type": "rule", "strokeDash": [2, 2], "strokeWidth": 1},
    "encoding": {"x": {"field": "theta", "type": "quantitative"},
     "color": {"condition": {"test": "datum.theta == 60 || datum.theta == 180", "value": "#cccccc"}, "value": "#8a8a8a"}}},
   {"data": {"name": "l057"}, "mark": {"type": "text", "align": "right", "baseline": "middle", "fontSize": 12.5, "dx": -16.4, "dy": 1.7},
    "encoding": {"x": {"datum": 360, "type": "quantitative"}, "y": {"datum": 4682, "type": "quantitative"}, "text": {"field": "num"}}},
   {"data": {"name": "l057"}, "mark": {"type": "text", "align": "right", "baseline": "middle", "fontSize": 13.5, "fontStyle": "italic", "dx": -6.6, "dy": 1.7},
    "encoding": {"x": {"datum": 360, "type": "quantitative"}, "y": {"datum": 4682, "type": "quantitative"}, "text": {"field": "q"}}},
   {"data": {"name": "l057"}, "mark": {"type": "text", "align": "right", "baseline": "middle", "fontSize": 8, "fontStyle": "italic", "dx": 8.3, "dy": 5.2},
    "encoding": {"x": {"datum": 360, "type": "quantitative"}, "y": {"datum": 4682, "type": "quantitative"}, "text": {"field": "sub"}}}
  ]},
  {"width": 292.4, "height": 63.4, "layer": [
   {"data": {"name": "w100"}, "mark": {"type": "line", "interpolate": "monotone", "stroke": "#444", "strokeWidth": 1.6, "strokeDash": [4, 1.5]},
    "encoding": {"x": {"field": "theta", "type": "quantitative", "scale": {"domain": [0, 360], "nice": false}, "axis": {"values": [0,30,60,90,120,150,180,210,240,270,300,330,360], "labels": false, "title": null, "tickDash": {"condition": {"test": "datum.value % 60 !== 0", "value": [3, 10]}, "value": [10, 0]}, "domainColor": "#666", "domainWidth": 1.5}},
     "y": {"field": "v", "type": "quantitative", "scale": {"domain": [12321, 13250], "nice": false, "zero": false}, "axis": {"values": [12400,12600,12800,13000,13200], "labels": false, "tickDash": {"condition": {"test": "datum.value % 400 !== 0", "value": [2.5, 10]}, "value": [10, 0]}, "title": "Wsf/W", "titlePadding": 36.3}}}},
   {"data": {"name": "ty8"}, "mark": {"type": "text", "align": "right", "baseline": "middle", "fontSize": 12, "dx": -5.5},
    "encoding": {"x": {"datum": 0, "type": "quantitative"}, "y": {"field": "v", "type": "quantitative"}, "text": {"field": "lab"}}},
   {"data": {"name": "g3"}, "mark": {"type": "rule", "strokeDash": [2, 2], "strokeWidth": 1},
    "encoding": {"x": {"field": "theta", "type": "quantitative"},
     "color": {"condition": {"test": "datum.theta == 60 || datum.theta == 180", "value": "#cccccc"}, "value": "#8a8a8a"}}},
   {"data": {"name": "l100"}, "mark": {"type": "text", "align": "right", "baseline": "middle", "fontSize": 12.5, "dx": -16.4, "dy": 3.7},
    "encoding": {"x": {"datum": 360, "type": "quantitative"}, "y": {"datum": 13250, "type": "quantitative"}, "text": {"field": "num"}}},
   {"data": {"name": "l100"}, "mark": {"type": "text", "align": "right", "baseline": "middle", "fontSize": 13.5, "fontStyle": "italic", "dx": -6.6, "dy": 3.7},
    "encoding": {"x": {"datum": 360, "type": "quantitative"}, "y": {"datum": 13250, "type": "quantitative"}, "text": {"field": "q"}}},
   {"data": {"name": "l100"}, "mark": {"type": "text", "align": "right", "baseline": "middle", "fontSize": 8, "fontStyle": "italic", "dx": 8.3, "dy": 7.2},
    "encoding": {"x": {"datum": 360, "type": "quantitative"}, "y": {"datum": 13250, "type": "quantitative"}, "text": {"field": "sub"}}}
  ]},
  {"width": 292.4, "height": 64, "layer": [
   {"data": {"name": "w143"}, "mark": {"type": "line", "interpolate": "monotone", "stroke": "#444", "strokeWidth": 1.6, "strokeDash": [4, 1.5]},
    "encoding": {"x": {"field": "theta", "type": "quantitative", "scale": {"domain": [0, 360], "nice": false}, "axis": {"values": [0,30,60,90,120,150,180,210,240,270,300,330,360], "labelExpr": "datum.value % 60 === 0 ? format(datum.value, 'd') : ''", "title": "θ/°", "tickDash": {"condition": {"test": "datum.value % 60 !== 0", "value": [3, 10]}, "value": [10, 0]}, "domainColor": "#555", "domainWidth": 1.5, "labelPadding": 1, "titlePadding": 8}},
     "y": {"field": "v", "type": "quantitative", "scale": {"domain": [25748, 27696], "nice": false, "zero": false}, "axis": {"values": [25900,26250,26600,26950,27300], "labels": false, "tickDash": {"condition": {"test": "indexof([25900,26600,27300], datum.value) < 0", "value": [2.5, 10]}, "value": [10, 0]}, "title": null}}}},
   {"data": {"name": "ty9"}, "mark": {"type": "text", "align": "right", "baseline": "middle", "fontSize": 12, "dx": -5.5},
    "encoding": {"x": {"datum": 0, "type": "quantitative"}, "y": {"field": "v", "type": "quantitative"}, "text": {"field": "lab"}}},
   {"data": {"name": "g3"}, "mark": {"type": "rule", "strokeDash": [2, 2], "strokeWidth": 1},
    "encoding": {"x": {"field": "theta", "type": "quantitative"},
     "color": {"condition": {"test": "datum.theta == 60 || datum.theta == 180", "value": "#cccccc"}, "value": "#8a8a8a"}}},
   {"data": {"name": "l143"}, "mark": {"type": "text", "align": "right", "baseline": "middle", "fontSize": 12.5, "dx": -16.4, "dy": 4.3},
    "encoding": {"x": {"datum": 360, "type": "quantitative"}, "y": {"datum": 27696, "type": "quantitative"}, "text": {"field": "num"}}},
   {"data": {"name": "l143"}, "mark": {"type": "text", "align": "right", "baseline": "middle", "fontSize": 13.5, "fontStyle": "italic", "dx": -6.6, "dy": 4.3},
    "encoding": {"x": {"datum": 360, "type": "quantitative"}, "y": {"datum": 27696, "type": "quantitative"}, "text": {"field": "q"}}},
   {"data": {"name": "l143"}, "mark": {"type": "text", "align": "right", "baseline": "middle", "fontSize": 8, "fontStyle": "italic", "dx": 8.3, "dy": 7.8},
    "encoding": {"x": {"datum": 360, "type": "quantitative"}, "y": {"datum": 27696, "type": "quantitative"}, "text": {"field": "sub"}}}
  ]}
 ], "spacing": 10, "bounds": "flush"}
]
}
